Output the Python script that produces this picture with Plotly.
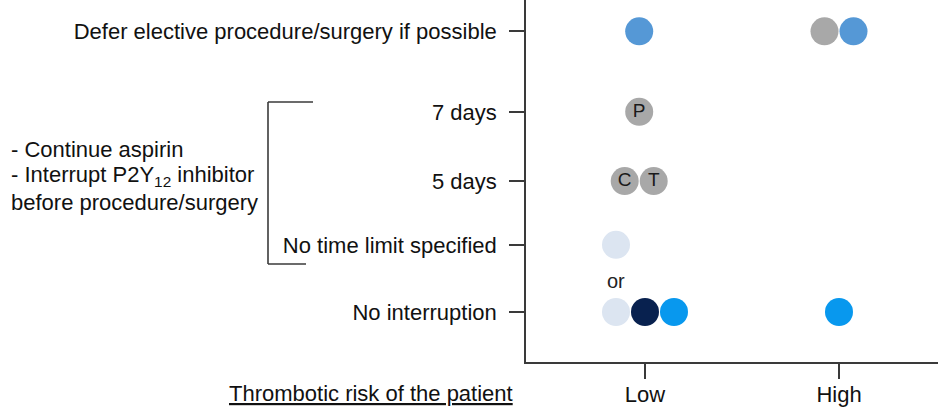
import plotly.graph_objects as go

# ---- data ----
ROWS = ["Defer elective procedure/surgery if possible", "7 days", "5 days",
        "No time limit specified", "No interruption"]
RISK_LEVELS = ["Low", "High"]

dot_risk = ["Low", "High", "High", "Low", "Low", "Low", "Low", "Low", "Low", "Low", "High"]
dot_row = [ROWS[0], ROWS[0], ROWS[0], ROWS[1], ROWS[2], ROWS[2], ROWS[3],
           ROWS[4], ROWS[4], ROWS[4], ROWS[4]]
dot_label = ["", "", "", "P", "C", "T", "", "", "", "", ""]
dot_kind = ["mid", "grey", "mid", "grey", "grey", "grey", "light", "light", "navy", "bright", "bright"]

LEFT_LINES = ["- Continue aspirin", "- Interrupt P2Y<sub>12</sub> inhibitor", "before procedure/surgery"]

# ---- layout / styling ----
COLORS = {"mid": "#5598D6", "grey": "#A8A8A8", "light": "#DCE5F1",
          "navy": "#08214F", "bright": "#0898EE"}
ROW_LEVEL = {ROWS[0]: 4.01, ROWS[1]: 2.86, ROWS[2]: 1.87, ROWS[3]: 0.96, ROWS[4]: 0.0}
RISK_X = {"Low": 0.0, "High": 1.0}
DOT_SLOT = [-0.2, -0.5, 0.5, -0.2, -0.7, 0.3, -1.0, -1.0, 0.0, 1.0, 0.0]
SLOT = 29 / 194.0  # one dot width in x-data units
LEFT_LINE_Y = [150, 176, 202]

FONT = "Liberation Sans, Arial, sans-serif"
FS = 22
AX = "#3a3a3a"

xs = [RISK_X[r] + s * SLOT for r, s in zip(dot_risk, DOT_SLOT)]
ys = [ROW_LEVEL[r] for r in dot_row]
cols = [COLORS[k] for k in dot_kind]

fig = go.Figure()
fig.add_trace(go.Scatter(
    x=xs, y=ys, mode="markers+text", text=dot_label,
    textposition="middle center",
    textfont=dict(family=FONT, size=19, color="#1a1a1a"),
    marker=dict(size=28, color=cols, line=dict(width=0)),
    hoverinfo="skip", showlegend=False,
))

# "or" between the two options
fig.add_annotation(x=RISK_X["Low"] - SLOT, y=0.44,
                   text="or", showarrow=False, font=dict(family=FONT, size=20, color="#222"),
                   xref="x", yref="y")

# bracket on left
PW = 412.0  # plot width px
PH = 362.0  # plot height px
def px_x(p):
    return (p - 526) / PW
def px_y(p):
    return 1 - p / PH

lc = dict(color=AX, width=1.6)
fig.add_shape(type="line", xref="paper", yref="paper", x0=px_x(268), x1=px_x(268),
              y0=px_y(102), y1=px_y(264), line=lc)
fig.add_shape(type="line", xref="paper", yref="paper", x0=px_x(268), x1=px_x(313),
              y0=px_y(102), y1=px_y(102), line=lc)
fig.add_shape(type="line", xref="paper", yref="paper", x0=px_x(268), x1=px_x(306),
              y0=px_y(264), y1=px_y(264), line=lc)

for txt, yy in zip(LEFT_LINES, LEFT_LINE_Y):
    fig.add_annotation(xref="paper", yref="paper", x=px_x(9), y=px_y(yy),
                       xanchor="left", yanchor="middle", align="left", showarrow=False,
                       text=txt, font=dict(family=FONT, size=FS, color="#111"))

fig.add_annotation(xref="paper", yref="paper", x=px_x(371), y=px_y(393),
                   xanchor="center", yanchor="middle", showarrow=False,
                   text="<u>Thrombotic risk of the patient</u>",
                   font=dict(family=FONT, size=FS, color="#111"))

fig.update_xaxes(range=[-119 / 194.0, (PW - 119) / 194.0],
                 tickvals=[RISK_X[r] for r in RISK_LEVELS], ticktext=RISK_LEVELS,
                 showline=True, linecolor=AX, linewidth=1.6, automargin=False,
                 ticks="outside", ticklen=15, tickwidth=1.6, tickcolor=AX,
                 showgrid=False, zeroline=False, ticklabelstandoff=-3,
                 tickfont=dict(family=FONT, size=FS, color="#111"))
fig.update_yaxes(range=[-(PH - 312) / 70.0, 312 / 70.0],
                 tickvals=[ROW_LEVEL[r] for r in ROWS], ticktext=ROWS,
                 showline=True, linecolor=AX, linewidth=1.6, automargin=False,
                 ticks="outside", ticklen=15, tickwidth=1.6, tickcolor=AX,
                 showgrid=False, zeroline=False, ticklabelstandoff=8,
                 tickfont=dict(family=FONT, size=FS, color="#111"))

fig.update_layout(width=938, height=407, margin=dict(l=526, r=0, t=0, b=45),
                  plot_bgcolor="white", paper_bgcolor="white")

fig.write_html("out.html", config={"displayModeBar": False},
               post_script="document.body.style.margin='0';document.body.style.overflow='hidden';")
